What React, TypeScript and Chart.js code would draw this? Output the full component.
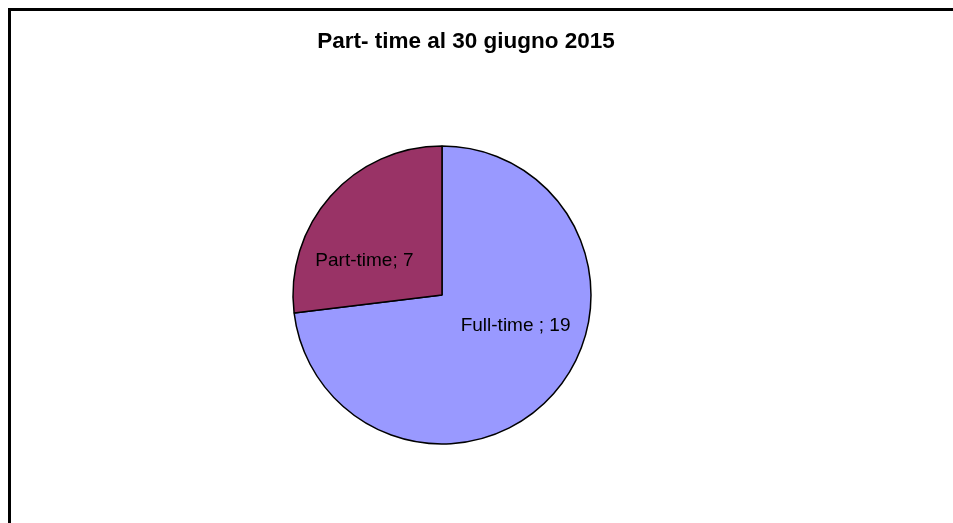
import React, { useEffect, useRef } from "react";
import { Chart, registerables } from "chart.js";

Chart.register(...registerables);

const titleText = "Part- time al 30 giugno 2015";
const categories = ["Full-time", "Part-time"];
const values = [19, 7];
const sliceColors = ["#9999FF", "#993366"];
const labelTexts = ["Full-time ; 19", "Part-time; 7"];
// label nudges relative to slice-centroid (px)
const labelNudges = [
  [10, -26],
  [-14, 22],
];

const titleAndLabels = {
  id: "titleAndLabels",
  afterDatasetsDraw(chart: any) {
    const ctx = chart.ctx;
    ctx.save();
    ctx.fillStyle = "#000";
    ctx.textAlign = "center";
    ctx.textBaseline = "middle";
    ctx.font = "bold 22.5px 'Liberation Sans', Arial, sans-serif";
    ctx.fillText(titleText, 466, 42);
    const meta = chart.getDatasetMeta(0);
    ctx.font = "19px 'Liberation Sans', Arial, sans-serif";
    meta.data.forEach((arc: any, i: number) => {
      const { x, y, startAngle, endAngle, outerRadius } = arc.getProps(
        ["x", "y", "startAngle", "endAngle", "outerRadius"],
        true
      );
      const mid = (startAngle + endAngle) / 2;
      const r = outerRadius * 0.57;
      const lx = x + Math.cos(mid) * r + labelNudges[i][0];
      const ly = y + Math.sin(mid) * r + labelNudges[i][1];
      ctx.fillText(labelTexts[i], lx, ly);
    });
    ctx.restore();
  },
};

export default function App() {
  const ref = useRef<HTMLCanvasElement>(null);
  useEffect(() => {
    if (!ref.current) return;
    const chart = new Chart(ref.current, {
      type: "pie",
      data: {
        labels: categories,
        datasets: [
          {
            data: values,
            backgroundColor: sliceColors,
            borderColor: "#000",
            borderWidth: 1.5,
            radius: 149,
          } as any,
        ],
      },
      options: {
        responsive: false,
        animation: false,
        layout: { padding: { left: 0, right: 69, top: 67, bottom: 0 } },
        plugins: {
          legend: { display: false },
          title: { display: false },
          tooltip: { enabled: false },
        },
      },
      plugins: [titleAndLabels],
    });
    return () => chart.destroy();
  }, []);
  return (
    <div style={{ position: "fixed", left: 0, top: 0, width: 953, height: 523, background: "#fff", overflow: "hidden" }}>
      <div
        style={{
          position: "absolute",
          left: 8,
          top: 8,
          width: 1200,
          height: 800,
          borderLeft: "3px solid #000",
          borderTop: "3px solid #000",
        }}
      />
      <canvas ref={ref} width={953} height={523} style={{ position: "absolute", left: 0, top: 0 }} />
    </div>
  );
}
